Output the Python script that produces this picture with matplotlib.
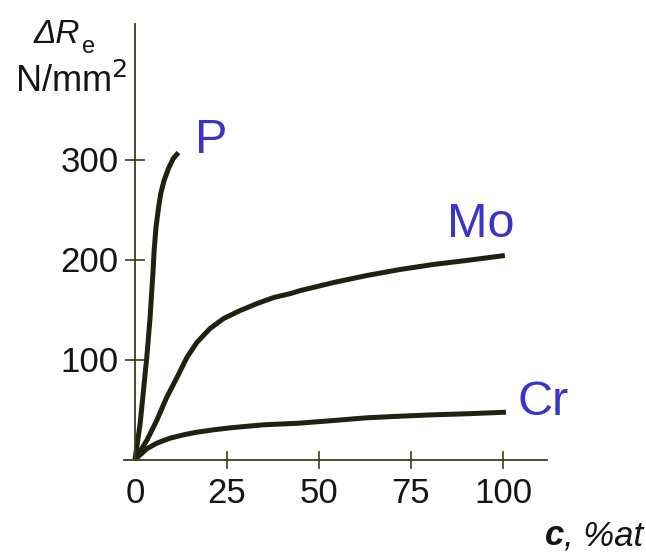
import matplotlib.pyplot as plt

plt.rcParams['font.family'] = ['Liberation Sans', 'DejaVu Sans']

# values
p_c = [0, 1.4, 2.3, 3.2, 4.1, 4.9, 5.2, 5.7, 6.4, 7.0, 7.9, 9.1, 10.4, 11.8]
p_r = [0, 36, 69, 102, 142, 188, 209, 232, 252, 266, 279, 291, 301, 307]

mo_c = [0, 3.2, 5.9, 8.6, 11.4, 14.1, 16.8, 20.4, 24.1, 28.6, 33.2, 37.7,
        42.3, 45, 54, 63, 72, 81, 90, 100.5]
mo_r = [0, 19, 39, 62, 82, 102, 117, 131, 141, 149, 156, 162,
        166, 169, 177, 184, 190, 195, 199, 204]

cr_c = [0, 3.2, 5.9, 9.5, 13.2, 16.8, 21.4, 25.9, 35, 44.5, 54, 63, 72, 81,
        90, 100.8]
cr_r = [0, 10.7, 16.3, 21.3, 24.7, 27.3, 29.7, 31.7, 34.7, 36.3, 39, 41.7,
        43.3, 44.7, 45.7, 47.3]

x_ticks = [0, 25, 50, 75, 100]
y_ticks = [100, 200, 300]

curve_col = '#1c2410'
axis_col = '#3d3d1a'
label_col = '#3a35c8'
text_col = '#151515'

fig = plt.figure(figsize=(6.46, 5.56), dpi=100)
ax = fig.add_axes([100 / 646, 56 / 556, 500 / 646, 490 / 556])
ax.set_xlim(-9.51, 126.36)
ax.set_ylim(-40.5, 449.5)

ax.plot(p_c, p_r, color=curve_col, lw=3.6, solid_capstyle='butt')
ax.plot(mo_c, mo_r, color=curve_col, lw=3.6, solid_capstyle='butt')
ax.plot(cr_c, cr_r, color=curve_col, lw=3.6, solid_capstyle='butt')

ax.text(20.6, 319, 'P', color=label_col, fontsize=35, ha='center', va='center')
ax.text(94, 235, 'Mo', color=label_col, fontsize=35, ha='center', va='center')
ax.text(111, 57, 'Cr', color=label_col, fontsize=35, ha='center', va='center')

for s in ['top', 'right']:
    ax.spines[s].set_visible(False)
ax.spines['left'].set_position(('data', 0))
ax.spines['bottom'].set_position(('data', 0))
ax.spines['left'].set_bounds(0, 436)
ax.spines['bottom'].set_bounds(-2.9, 112)
for s in ['left', 'bottom']:
    ax.spines[s].set_color(axis_col)
    ax.spines[s].set_linewidth(1.3)

ax.set_xticks(x_ticks)
ax.set_yticks(y_ticks)
ax.tick_params(axis='x', direction='inout', length=13, width=1.2, color=axis_col,
               labelsize=25, pad=6, labelcolor=text_col)
ax.tick_params(axis='y', direction='inout', length=14, width=1.2, color=axis_col,
               labelsize=25, pad=5, labelcolor=text_col)
ax.set_xticklabels([str(v) for v in x_ticks])
ax.xaxis.get_major_ticks()[0].tick1line.set_visible(False)

# y axis title: ΔRe over N/mm2
dr = fig.text(34 / 646, 1 - 43 / 556, 'ΔR', fontsize=24, style='italic',
              color=text_col, ha='left', va='baseline')
ax.annotate('e', xy=(1, 0), xycoords=dr, xytext=(1, -2), textcoords='offset points',
            fontsize=17, color=text_col, ha='left', va='baseline')
fig.text(71 / 646, 1 - 82 / 556, r'N/mm$^2$', fontsize=26,
         color=text_col, ha='center', va='center')

t = fig.text(643 / 646, 1 - 552 / 556, ', %at', fontsize=25, style='italic',
             color=text_col, ha='right', va='bottom')
ax.annotate('c', xy=(0, 0), xycoords=t, fontsize=25, style='italic',
            weight='bold', color=text_col, ha='right', va='bottom')

fig.savefig('out.png', dpi=100)
